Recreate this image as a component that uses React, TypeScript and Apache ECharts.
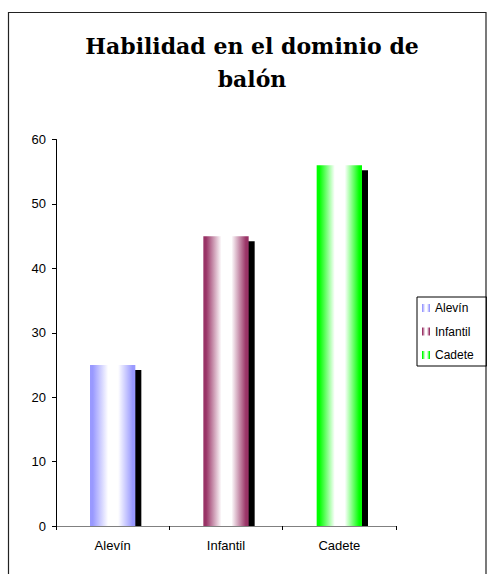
import React, { useEffect, useRef } from "react";
import * as echarts from "echarts";

const categories = ["Alevín", "Infantil", "Cadete"];
const seriesNames = ["Alevín", "Infantil", "Cadete"];
const seriesValues = [25, 45, 56];
const seriesColors = ["#9999FF", "#993366", "#00FF00"];
const yTicks = { min: 0, max: 60, interval: 10 };
const titleLines = ["Habilidad en el dominio de", "balón"];

const barGradient = (color: string) =>
  new echarts.graphic.LinearGradient(0, 0, 1, 0, [
    { offset: 0, color },
    { offset: 0.06, color },
    { offset: 0.4, color: "#ffffff" },
    { offset: 0.62, color: "#ffffff" },
    { offset: 0.94, color },
    { offset: 1, color },
  ]);

export default function App() {
  const ref = useRef<HTMLDivElement>(null);

  useEffect(() => {
    if (!ref.current) return;
    const chart = echarts.init(ref.current, undefined, { renderer: "svg" });

    const series = seriesNames.map((name, i) => ({
      type: "custom",
      name,
      itemStyle: { color: barGradient(seriesColors[i]) },
      data: [[i, seriesValues[i]]],
      renderItem: (params: any, api: any) => {
        const top = api.coord([api.value(0), api.value(1)]);
        const base = api.coord([api.value(0), 0]);
        const w = api.size([1, 0])[0] * 0.4;
        const x = top[0] - w / 2;
        return {
          type: "group",
          children: [
            {
              type: "rect",
              shape: { x: x + 6, y: top[1] + 5, width: w, height: base[1] - top[1] - 5 },
              style: { fill: "#000000" },
            },
            {
              type: "rect",
              shape: { x, y: top[1], width: w, height: base[1] - top[1] },
              style: { fill: barGradient(seriesColors[i]) },
            },
          ],
        };
      },
    }));

    chart.setOption({
      animation: false,
      backgroundColor: "#ffffff",
      graphic: [
        {
          type: "rect",
          shape: { x: 8.5, y: 12.5, width: 477.5, height: 600 },
          style: { fill: "none", stroke: "#222222", lineWidth: 1.2 },
          silent: true,
        },
        ...titleLines.map((t, i) => ({
          type: "text",
          x: 252,
          y: 46 + i * 33,
          style: {
            text: t,
            fontFamily: "DejaVu Serif",
            fontWeight: "bold",
            fontSize: 22,
            fill: "#000000",
            textAlign: "center",
            textVerticalAlign: "middle",
          },
        })),
      ],
      grid: { left: 56, right: 91, top: 139.5, bottom: 48 },
      legend: {
        orient: "vertical",
        left: 417,
        top: 297,
        itemWidth: 8,
        itemHeight: 8,
        itemGap: 11.5,
        padding: [5, 13, 5, 5],
        borderColor: "#000000",
        borderWidth: 1,
        icon: "rect",
        data: seriesNames,
        textStyle: { fontFamily: "Liberation Sans", fontSize: 12, color: "#000000" },
      },
      xAxis: {
        type: "category",
        data: categories,
        boundaryGap: true,
        axisLine: { lineStyle: { color: "#808080", width: 1 } },
        axisTick: { show: true, length: 4, lineStyle: { color: "#000000" } },
        axisLabel: { fontFamily: "Liberation Sans", fontSize: 13, color: "#000000", margin: 13 },
      },
      yAxis: {
        type: "value",
        min: yTicks.min,
        max: yTicks.max,
        interval: yTicks.interval,
        splitLine: { show: false },
        axisLine: { show: true, lineStyle: { color: "#000000", width: 1 } },
        axisTick: { show: true, length: 4, lineStyle: { color: "#000000" } },
        axisLabel: { fontFamily: "Liberation Sans", fontSize: 13, color: "#000000", margin: 10 },
      },
      series,
    });

    return () => chart.dispose();
  }, []);

  return (
    <div
      ref={ref}
      style={{ position: "fixed", left: 0, top: 0, width: 487, height: 574 }}
    />
  );
}
